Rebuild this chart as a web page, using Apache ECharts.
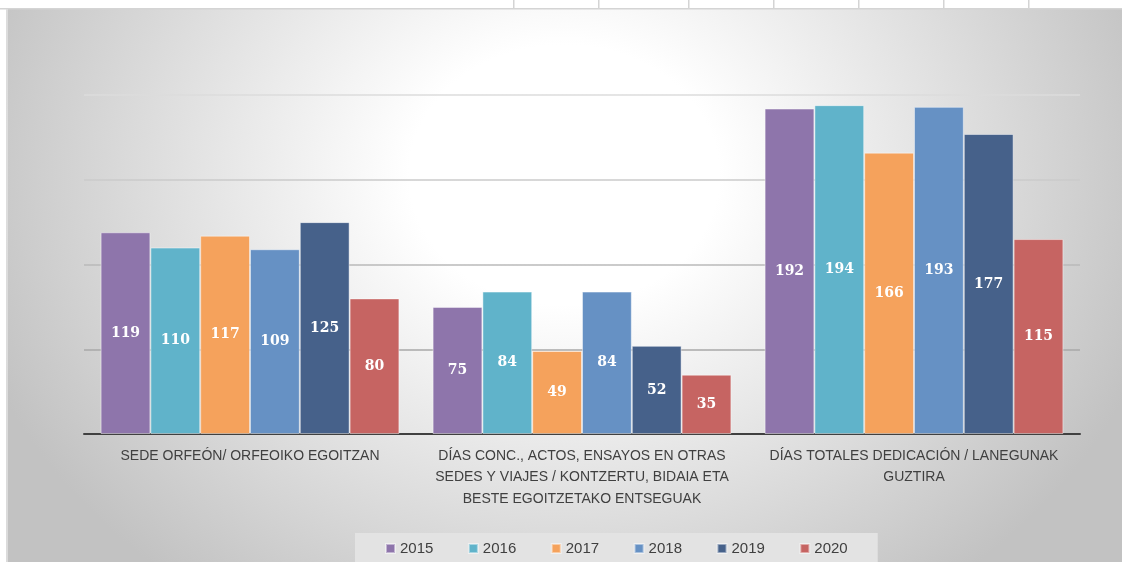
<!DOCTYPE html>
<html><head><meta charset="utf-8">
<script src="https://cdn.jsdelivr.net/npm/echarts@6/dist/echarts.min.js"></script>
<style>html,body{margin:0;padding:0;background:#fff;}#c{width:1122px;height:562px;}</style>
</head><body><div id="c"></div>
<script>
const categories = [
  'SEDE ORFEÓN/ ORFEOIKO EGOITZAN',
  'DÍAS CONC., ACTOS, ENSAYOS EN OTRAS\nSEDES Y VIAJES / KONTZERTU, BIDAIA ETA\nBESTE EGOITZETAKO ENTSEGUAK',
  'DÍAS TOTALES DEDICACIÓN / LANEGUNAK\nGUZTIRA'
];
const years = ['2015', '2016', '2017', '2018', '2019', '2020'];
const v2015 = [119, 75, 192];
const v2016 = [110, 84, 194];
const v2017 = [117, 49, 166];
const v2018 = [109, 84, 193];
const v2019 = [125, 52, 177];
const v2020 = [80, 35, 115];
const yTicks = [0, 50, 100, 150, 200];

const values = [v2015, v2016, v2017, v2018, v2019, v2020];
const colors = ['#8E75AB', '#60B3CA', '#F5A25C', '#6691C4', '#46618A', '#C66462'];

const chart = echarts.init(document.getElementById('c'), null, {renderer: 'canvas'});

const topLinesX = [513, 598, 688, 773, 858, 943, 1028];
const graphics = [
  {
    type: 'rect', x: 6, y: 9, scaleY: 0.839, z: -10, silent: true,
    shape: {x: 0, y: 0, width: 1116, height: 659},
    style: {fill: {type: 'radial', x: 0.5, y: 0.3, r: 0.941, colorStops: [
      {offset: 0, color: '#ffffff'}, {offset: 0.25, color: '#ffffff'}, {offset: 1, color: '#c2c2c2'}
    ]}}
  },
  {type: 'rect', x: 0, y: 0, z: -9, silent: true, shape: {x: 0, y: 0, width: 1122, height: 8}, style: {fill: '#ffffff'}},
  {type: 'rect', x: 0, y: 8, z: -9, silent: true, shape: {x: 0, y: 0, width: 1122, height: 1.5}, style: {fill: '#d4d4d4'}},
  {type: 'rect', x: 6, y: 9, z: -9, silent: true, shape: {x: 0, y: 0, width: 2, height: 553}, style: {fill: 'rgba(225,225,225,0.8)'}}
];
topLinesX.forEach(function (x) {
  graphics.push({type: 'rect', x: x, y: 0, z: -9, silent: true, shape: {x: 0, y: 0, width: 1.5, height: 8}, style: {fill: '#d4d4d4'}});
});

chart.setOption({
  backgroundColor: '#ffffff',
  animation: false,
  graphic: graphics,
  grid: {left: 84, right: 42, top: 95, bottom: 128, containLabel: false},
  legend: {
    data: years,
    left: 355, bottom: -2,
    itemWidth: 9, itemHeight: 9, itemGap: 34.5,
    icon: 'rect',
    padding: [8, 30, 8, 30],
    backgroundColor: '#e3e3e3',
    textStyle: {color: '#404040', fontSize: 15, fontFamily: 'Liberation Sans'}
  },
  xAxis: {
    type: 'category',
    data: categories,
    axisLine: {lineStyle: {color: '#404040', width: 2}},
    axisTick: {show: false},
    axisLabel: {
      interval: 0, color: '#404040', fontSize: 14, lineHeight: 21.5, margin: 11,
      fontFamily: 'Liberation Sans, sans-serif'
    }
  },
  yAxis: {
    type: 'value', min: yTicks[0], max: yTicks[yTicks.length - 1], interval: yTicks[1] - yTicks[0],
    axisLabel: {show: false},
    axisLine: {show: false},
    axisTick: {show: false},
    splitLine: {lineStyle: {
      width: 1.5,
      color: {type: 'linear', global: true, x: 0, y: 95, x2: 0, y2: 349, colorStops: [
        {offset: 0, color: '#dcdcdc'}, {offset: 1, color: '#a8a8a8'}
      ]}
    }}
  },
  series: years.map(function (y, i) {
    return {
      name: y,
      type: 'bar',
      data: values[i],
      barGap: '0%',
      barCategoryGap: '10%',
      itemStyle: {color: colors[i], borderColor: 'rgba(255,255,255,0.45)', borderWidth: 1},
      label: {
        show: true, position: 'inside', color: '#ffffff',
        fontSize: 14, fontWeight: 'bold', fontFamily: 'DejaVu Serif, serif'
      }
    };
  })
});
</script>
</body></html>
